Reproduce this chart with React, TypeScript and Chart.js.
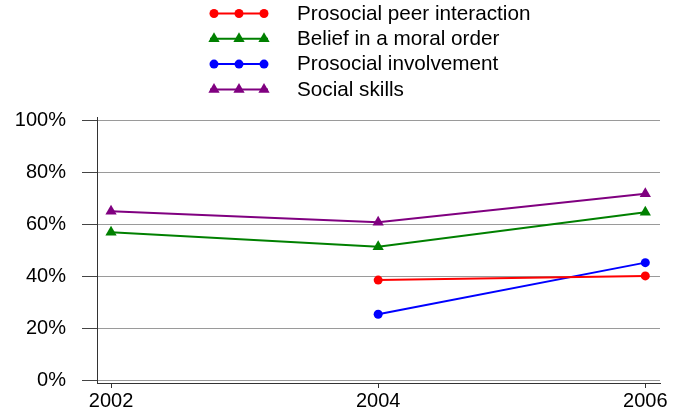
import React, { useEffect, useRef } from 'react';
import { Chart, registerables } from 'chart.js';

Chart.register(...registerables);

const years = [2002, 2004, 2006];
const seriesLabels = [
  'Prosocial peer interaction',
  'Belief in a moral order',
  'Prosocial involvement',
  'Social skills',
];
const prosocialPeer = [null, 38.6, 40.2];
const beliefMoral = [57.0, 51.4, 64.6];
const prosocialInvolvement = [null, 25.5, 45.3];
const socialSkills = [65.0, 60.8, 71.7];
const yTickValues = [0, 20, 40, 60, 80, 100];
const seriesColors = ['#ff0000', '#008000', '#0000ff', '#800080'];
const seriesMarkers = ['circle', 'triangle', 'circle', 'triangle'];

const FONT = "'Liberation Sans', Arial, sans-serif";

const legendPlugin = {
  id: 'customLegend',
  afterDraw(chart: any) {
    const ctx = chart.ctx;
    ctx.save();
    chart.data.datasets.forEach((ds: any, i: number) => {
      const y = 13.5 + 25.3 * i;
      ctx.strokeStyle = ds.borderColor;
      ctx.lineWidth = 2;
      ctx.beginPath();
      ctx.moveTo(210, y);
      ctx.lineTo(268, y);
      ctx.stroke();
      ctx.fillStyle = ds.borderColor;
      [214, 239, 264].forEach((x) => {
        ctx.beginPath();
        if (ds.pointStyle === 'triangle') {
          const r = ds.pointRadius;
          let rad = 0;
          ctx.moveTo(x + Math.sin(rad) * r, y - Math.cos(rad) * r);
          rad += (2 * Math.PI) / 3;
          ctx.lineTo(x + Math.sin(rad) * r, y - Math.cos(rad) * r);
          rad += (2 * Math.PI) / 3;
          ctx.lineTo(x + Math.sin(rad) * r, y - Math.cos(rad) * r);
          ctx.closePath();
        } else {
          ctx.arc(x, y, ds.pointRadius, 0, Math.PI * 2);
        }
        ctx.fill();
      });
      ctx.fillStyle = '#000';
      ctx.font = `20.7px ${FONT}`;
      ctx.textAlign = 'left';
      ctx.textBaseline = 'middle';
      ctx.fillText(ds.label, 297, y + 0.5);
    });
    ctx.restore();
  },
};

export default function App() {
  const ref = useRef<HTMLCanvasElement | null>(null);

  useEffect(() => {
    document.body.style.margin = '0';
    const seriesValues = [prosocialPeer, beliefMoral, prosocialInvolvement, socialSkills];
    const datasets = seriesValues.map((vals, i) => ({
      label: seriesLabels[i],
      data: years.map((yr, j) => ({ x: yr, y: vals[j] })),
      borderColor: seriesColors[i],
      backgroundColor: seriesColors[i],
      pointBackgroundColor: seriesColors[i],
      pointBorderColor: seriesColors[i],
      pointBorderWidth: 0,
      pointStyle: seriesMarkers[i],
      pointRadius: seriesMarkers[i] === 'triangle' ? 6.5 : 4.5,
      borderWidth: 2,
      tension: 0,
      spanGaps: false,
    }));

    const chart = new Chart(ref.current as HTMLCanvasElement, {
      type: 'line',
      data: { datasets },
      plugins: [legendPlugin],
      options: {
        animation: false,
        responsive: false,
        devicePixelRatio: 1,
        layout: { padding: { top: 117, right: 21, left: 0, bottom: 0 } },
        plugins: { legend: { display: false }, tooltip: { enabled: false } },
        scales: {
          x: {
            type: 'linear',
            min: 2001.895,
            max: 2006.11,
            afterBuildTicks: (scale: any) => {
              scale.ticks = years.map((v) => ({ value: v }));
            },
            afterFit: (scale: any) => {
              scale.height = 31;
            },
            ticks: {
              color: '#000',
              font: { family: FONT, size: 20 },
              padding: 1,
              maxRotation: 0,
              autoSkip: false,
              callback: (v: any) => String(v),
            },
            grid: {
              drawOnChartArea: false,
              drawTicks: true,
              tickLength: 5,
              tickColor: '#333',
            },
            border: { color: '#333', width: 1 },
          },
          y: {
            type: 'linear',
            min: -0.9,
            max: 101.2,
            afterBuildTicks: (scale: any) => {
              scale.ticks = yTickValues.map((v) => ({ value: v }));
            },
            afterFit: (scale: any) => {
              scale.width = 97;
            },
            ticks: {
              color: '#000',
              font: { family: FONT, size: 20 },
              padding: 16,
              callback: (v: any) => `${v}%`,
            },
            grid: {
              color: '#9a9a9a',
              lineWidth: 1,
              drawTicks: true,
              tickLength: 15,
              tickColor: '#444',
            },
            border: { color: '#333', width: 1 },
          },
        },
      },
    });
    return () => chart.destroy();
  }, []);

  return (
    <div style={{ position: 'fixed', left: 0, top: 0, width: 681, height: 414, background: '#fff' }}>
      <canvas ref={ref} width={681} height={414} style={{ width: 681, height: 414 }} />
    </div>
  );
}
